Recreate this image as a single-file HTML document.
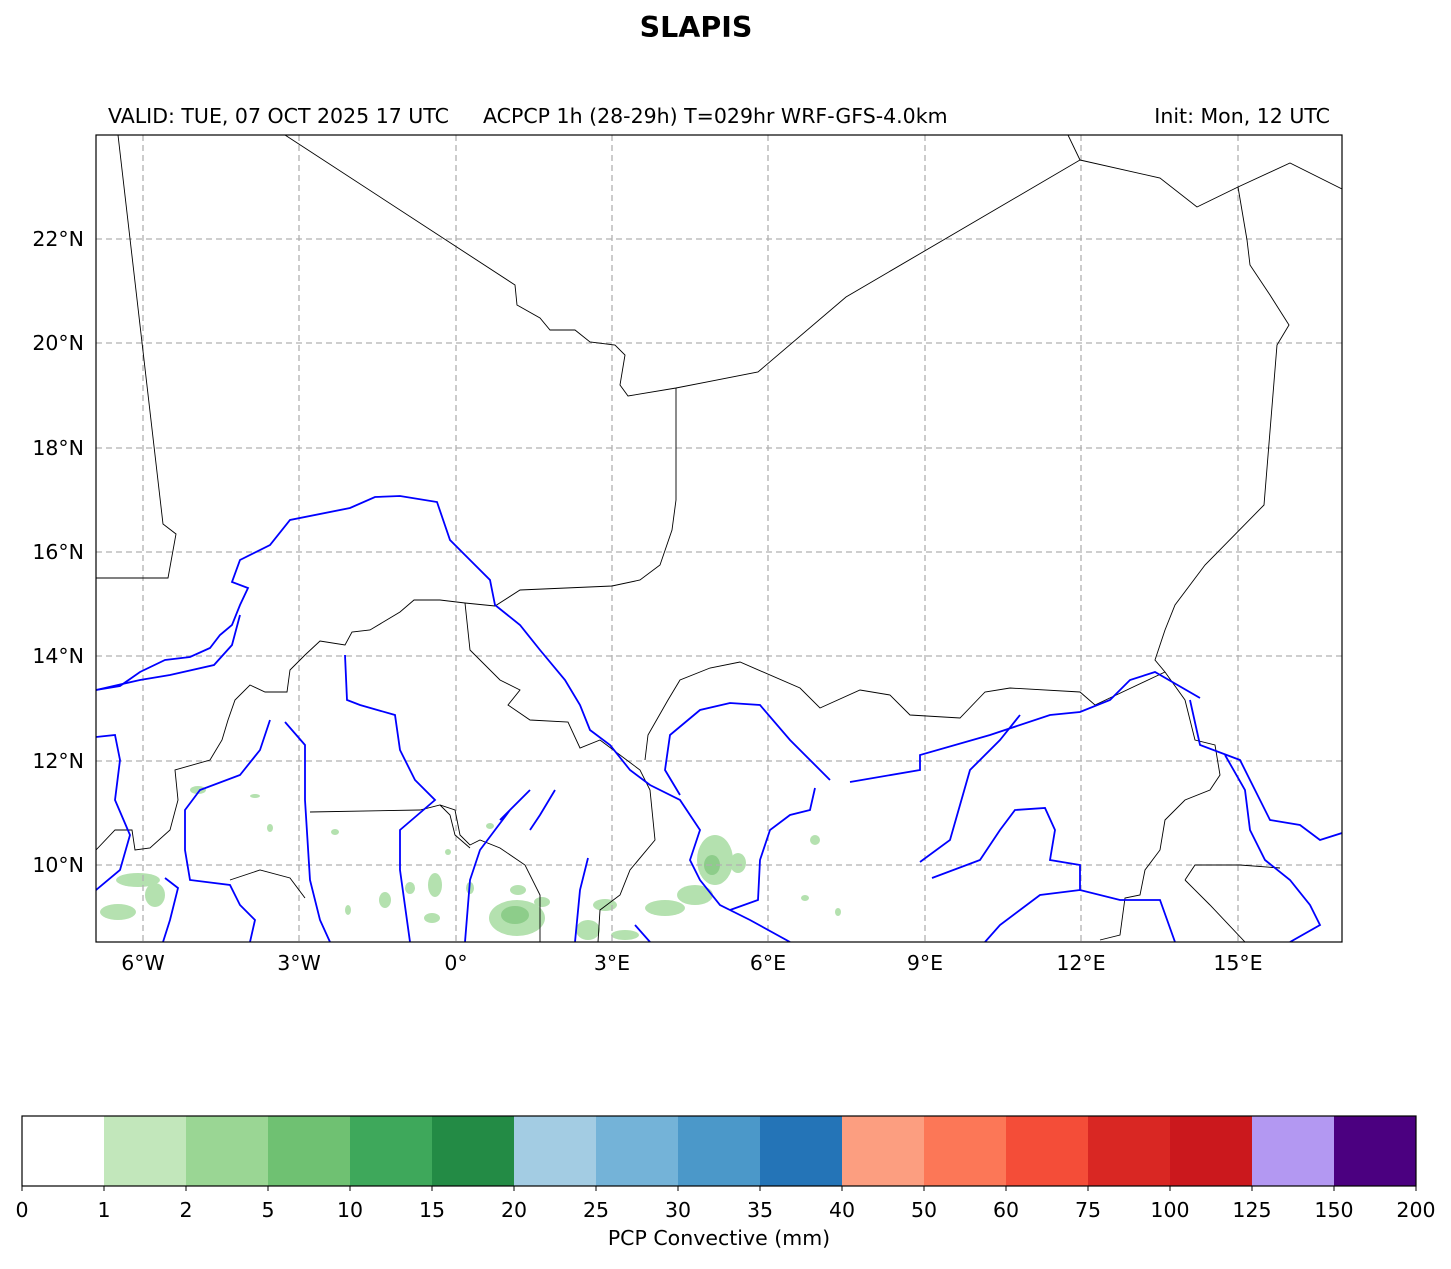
<!DOCTYPE html>
<html><head><style>
body{margin:0;background:#fff;width:1451px;height:1264px;overflow:hidden;font-family:"Liberation Sans","DejaVu Sans",sans-serif;}
</style></head><body>
<svg width="1451" height="1264" xmlns="http://www.w3.org/2000/svg" font-family="DejaVu Sans, Liberation Sans, sans-serif">
<rect width="1451" height="1264" fill="#fff"/>
<text x="696" y="37" font-size="28.5" font-weight="bold" text-anchor="middle">SLAPIS</text>
<text x="108" y="123" font-size="20.5">VALID: TUE, 07 OCT 2025 17 UTC</text>
<text x="483" y="123" font-size="20.5">ACPCP 1h (28-29h) T=029hr WRF-GFS-4.0km</text>
<text x="1330" y="123" font-size="20.5" text-anchor="end">Init: Mon, 12 UTC</text>
<defs><clipPath id="c"><rect x="96" y="135" width="1246" height="807"/></clipPath></defs>
<g clip-path="url(#c)">
<g fill="#a8dca2" opacity="0.85">
<ellipse cx="118" cy="912" rx="18" ry="8"/><ellipse cx="138" cy="880" rx="22" ry="7"/><ellipse cx="155" cy="895" rx="10" ry="12"/>
<ellipse cx="198" cy="790" rx="8" ry="4"/><ellipse cx="255" cy="796" rx="5" ry="2"/><ellipse cx="270" cy="828" rx="3" ry="4"/>
<ellipse cx="335" cy="832" rx="4" ry="3"/><ellipse cx="385" cy="900" rx="6" ry="8"/><ellipse cx="410" cy="888" rx="5" ry="6"/>
<ellipse cx="435" cy="885" rx="7" ry="12"/><ellipse cx="432" cy="918" rx="8" ry="5"/><ellipse cx="470" cy="888" rx="4" ry="6"/>
<ellipse cx="517" cy="918" rx="28" ry="18"/><ellipse cx="518" cy="890" rx="8" ry="5"/><ellipse cx="542" cy="902" rx="8" ry="5"/>
<ellipse cx="588" cy="930" rx="12" ry="10"/><ellipse cx="605" cy="905" rx="12" ry="6"/><ellipse cx="625" cy="935" rx="14" ry="5"/>
<ellipse cx="665" cy="908" rx="20" ry="8"/><ellipse cx="695" cy="895" rx="18" ry="10"/><ellipse cx="715" cy="860" rx="18" ry="25"/>
<ellipse cx="738" cy="863" rx="8" ry="10"/><ellipse cx="815" cy="840" rx="5" ry="5"/><ellipse cx="805" cy="898" rx="4" ry="3"/>
<ellipse cx="838" cy="912" rx="3" ry="4"/><ellipse cx="490" cy="826" rx="4" ry="3"/><ellipse cx="448" cy="852" rx="3" ry="3"/><ellipse cx="348" cy="910" rx="3" ry="5"/>
</g>
<g fill="#7cc47a" opacity="0.7">
<ellipse cx="515" cy="915" rx="14" ry="9"/><ellipse cx="712" cy="865" rx="8" ry="10"/>
</g>
<g stroke="#b0b0b0" stroke-width="1.3" stroke-dasharray="6,4">
<line x1="143" y1="135" x2="143" y2="942"/><line x1="299" y1="135" x2="299" y2="942"/><line x1="456" y1="135" x2="456" y2="942"/><line x1="612" y1="135" x2="612" y2="942"/><line x1="768" y1="135" x2="768" y2="942"/><line x1="925" y1="135" x2="925" y2="942"/><line x1="1081" y1="135" x2="1081" y2="942"/><line x1="1238" y1="135" x2="1238" y2="942"/>
<line x1="96" y1="239" x2="1342" y2="239"/><line x1="96" y1="343" x2="1342" y2="343"/><line x1="96" y1="448" x2="1342" y2="448"/><line x1="96" y1="552" x2="1342" y2="552"/><line x1="96" y1="656" x2="1342" y2="656"/><line x1="96" y1="761" x2="1342" y2="761"/><line x1="96" y1="865" x2="1342" y2="865"/>
</g>
<g fill="none" stroke="#000" stroke-width="0.9">
<polyline points="118,135 163,524 176,534 168,578 96,578"/>
<polyline points="285,135 515,285 517,305 540,318 550,330 575,330 590,342 615,345 625,355 620,385 628,396 676,388 758,372 846,297 1080,160 1068,135"/>
<polyline points="1080,160 1160,178 1197,207 1238,187 1290,163 1342,189"/>
<polyline points="1238,187 1247,240 1250,265 1270,295 1289,325 1277,345 1264,505 1205,565 1175,605 1165,630 1155,660 1165,672 1185,700 1195,740 1215,745 1220,775 1210,790 1185,800 1165,820 1160,850 1145,870 1140,895 1125,898 1120,935 1100,940"/>
<polyline points="676,388 676,500 672,530 660,565 640,580 612,586 520,590 495,606 465,603 440,600 414,600 400,612 370,630 352,632 345,645 320,641 305,655 290,670 287,692 265,692 250,685 235,700 228,720 222,740 210,760 175,770 178,800 170,830 150,848 135,850 132,830 115,830 96,850"/>
<polyline points="465,603 470,650 500,680 520,690 508,705 530,720 568,722 580,748 600,740 640,770 650,790 655,840 630,870 620,895 600,910 598,942"/>
<polyline points="645,760 648,735 668,700 680,680 710,668 740,662 800,688 820,708 860,690 890,695 910,715 960,718 985,692 1010,688 1080,692 1095,705 1165,672"/>
<polyline points="310,812 420,810 440,805 455,810 460,835 470,845 480,840 500,848 525,865 540,895 540,942"/>
<polyline points="440,805 450,815 455,835 470,848"/>
<polyline points="230,880 260,870 290,878 305,898"/>
<polyline points="1185,880 1195,865 1240,865 1280,868"/>
<polyline points="1185,880 1210,905 1245,942"/>
</g>
<g fill="none" stroke="#0000ff" stroke-width="1.8">
<polyline points="96,690 120,686 140,672 165,660 190,657 210,648 220,635 232,625 240,605 248,588 232,582 240,560 270,545 290,520 350,508 375,497 400,496 437,502 450,540 470,560 490,580 495,605 520,625 540,650 565,680 580,705 590,730 610,745 630,770 650,785 680,800 700,830 690,860 700,880 720,905 750,920 790,942"/>
<polyline points="815,788 810,810 790,815 770,830 760,860 758,900 730,910"/>
<polyline points="830,780 790,740 760,705 730,703 700,710 670,735 665,770 680,795"/>
<polyline points="850,782 920,770 920,755 990,735 1050,715 1080,712 1110,700 1130,680 1155,672 1200,698"/>
<polyline points="1190,700 1200,745 1240,760 1255,790 1270,820 1300,825 1320,840 1342,833"/>
<polyline points="1225,755 1245,790 1250,830 1265,860 1290,880 1310,905 1320,925 1290,942"/>
<polyline points="920,862 950,840 970,770 1000,740 1020,715"/>
<polyline points="932,878 980,860 1000,830 1015,810 1045,808 1055,830 1050,860 1080,865 1080,890"/>
<polyline points="985,942 1000,925 1040,895 1080,890 1120,900 1160,900 1175,942"/>
<polyline points="345,655 347,700 360,705 395,715 400,750 415,780 435,800 400,830 400,870 410,942"/>
<polyline points="270,720 260,750 240,775 200,790 185,810 185,850 190,880 230,885 240,905 255,920 250,942"/>
<polyline points="285,722 305,745 305,800 310,880 320,920 330,942"/>
<polyline points="96,737 115,735 120,760 115,800 130,835 120,870 96,890"/>
<polyline points="240,615 232,645 214,665 170,675 140,680 96,690"/>
<polyline points="500,820 530,790 510,810 495,830 480,850 470,880 465,942"/>
<polyline points="555,790 540,815 530,830"/>
<polyline points="588,858 580,890 575,942"/>
<polyline points="635,925 650,942"/>
<polyline points="165,878 178,888 170,920 163,942"/>
</g>
</g>
<rect x="96" y="135" width="1246" height="807" fill="none" stroke="#000" stroke-width="1.2"/>
<g font-size="20.5" text-anchor="middle">
<text x="143" y="970">6°W</text><text x="299" y="970">3°W</text><text x="456" y="970">0°</text><text x="612" y="970">3°E</text><text x="768" y="970">6°E</text><text x="925" y="970">9°E</text><text x="1081" y="970">12°E</text><text x="1238" y="970">15°E</text>
</g>
<g font-size="20.5" text-anchor="end">
<text x="84" y="246">22°N</text><text x="84" y="350">20°N</text><text x="84" y="455">18°N</text><text x="84" y="559">16°N</text><text x="84" y="663">14°N</text><text x="84" y="768">12°N</text><text x="84" y="872">10°N</text>
</g>
<g>
<rect x="22" y="1116" width="82" height="70" fill="#fff"/>
<rect x="104" y="1116" width="82" height="70" fill="#c2e7bb"/>
<rect x="186" y="1116" width="82" height="70" fill="#9ad694"/>
<rect x="268" y="1116" width="82" height="70" fill="#6fc172"/>
<rect x="350" y="1116" width="82" height="70" fill="#3ea85b"/>
<rect x="432" y="1116" width="82" height="70" fill="#238b45"/>
<rect x="514" y="1116" width="82" height="70" fill="#a3cce3"/>
<rect x="596" y="1116" width="82" height="70" fill="#74b3d8"/>
<rect x="678" y="1116" width="82" height="70" fill="#4b98c9"/>
<rect x="760" y="1116" width="82" height="70" fill="#2474b7"/>
<rect x="842" y="1116" width="82" height="70" fill="#fc9e80"/>
<rect x="924" y="1116" width="82" height="70" fill="#fc7757"/>
<rect x="1006" y="1116" width="82" height="70" fill="#f44d38"/>
<rect x="1088" y="1116" width="82" height="70" fill="#d92723"/>
<rect x="1170" y="1116" width="82" height="70" fill="#cb181d"/>
<rect x="1252" y="1116" width="82" height="70" fill="#b398f2"/>
<rect x="1334" y="1116" width="82" height="70" fill="#4b0080"/>
<rect x="22" y="1116" width="1394" height="70" fill="none" stroke="#000" stroke-width="1.2"/>
</g>
<g stroke="#000" stroke-width="1">
<line x1="22" y1="1186" x2="22" y2="1191"/><line x1="104" y1="1186" x2="104" y2="1191"/><line x1="186" y1="1186" x2="186" y2="1191"/><line x1="268" y1="1186" x2="268" y2="1191"/><line x1="350" y1="1186" x2="350" y2="1191"/><line x1="432" y1="1186" x2="432" y2="1191"/><line x1="514" y1="1186" x2="514" y2="1191"/><line x1="596" y1="1186" x2="596" y2="1191"/><line x1="678" y1="1186" x2="678" y2="1191"/><line x1="760" y1="1186" x2="760" y2="1191"/><line x1="842" y1="1186" x2="842" y2="1191"/><line x1="924" y1="1186" x2="924" y2="1191"/><line x1="1006" y1="1186" x2="1006" y2="1191"/><line x1="1088" y1="1186" x2="1088" y2="1191"/><line x1="1170" y1="1186" x2="1170" y2="1191"/><line x1="1252" y1="1186" x2="1252" y2="1191"/><line x1="1334" y1="1186" x2="1334" y2="1191"/><line x1="1416" y1="1186" x2="1416" y2="1191"/>
</g>
<g font-size="20.5" text-anchor="middle">
<text x="22" y="1217">0</text><text x="104" y="1217">1</text><text x="186" y="1217">2</text><text x="268" y="1217">5</text><text x="350" y="1217">10</text><text x="432" y="1217">15</text><text x="514" y="1217">20</text><text x="596" y="1217">25</text><text x="678" y="1217">30</text><text x="760" y="1217">35</text><text x="842" y="1217">40</text><text x="924" y="1217">50</text><text x="1006" y="1217">60</text><text x="1088" y="1217">75</text><text x="1170" y="1217">100</text><text x="1252" y="1217">125</text><text x="1334" y="1217">150</text><text x="1416" y="1217">200</text>
<text x="719" y="1245">PCP Convective (mm)</text>
</g>
</svg>
</body></html>
